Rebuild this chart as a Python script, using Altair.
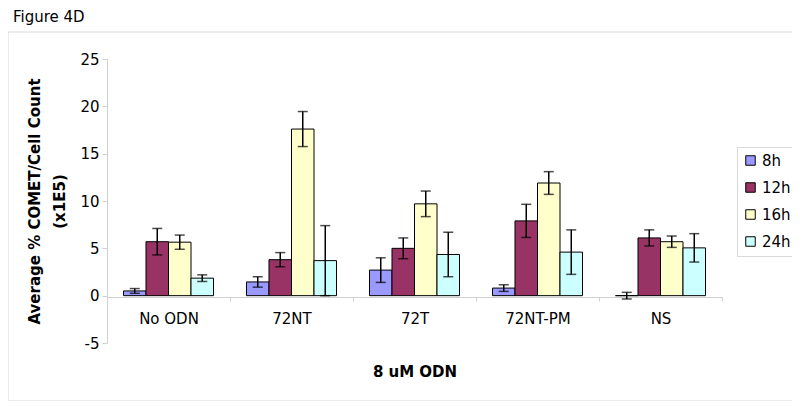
import altair as alt
import pandas as pd

categories = ["No ODN", "72NT", "72T", "72NT-PM", "NS"]
series = ["8h", "12h", "16h", "24h"]
colors = ["#9999FF", "#993366", "#FFFFCC", "#CCFFFF"]

means_8h = [0.5, 1.45, 2.7, 0.8, 0.0]
means_12h = [5.7, 3.8, 5.0, 7.9, 6.1]
means_16h = [5.65, 17.6, 9.7, 11.9, 5.7]
means_24h = [1.85, 3.7, 4.35, 4.6, 5.05]

err_8h = [0.25, 0.55, 1.3, 0.35, 0.35]
err_12h = [1.4, 0.75, 1.1, 1.75, 0.85]
err_16h = [0.75, 1.85, 1.35, 1.2, 0.6]
err_24h = [0.35, 3.7, 2.35, 2.35, 1.5]

y_ticks = [-5, 0, 5, 10, 15, 20, 25]

means = [means_8h, means_12h, means_16h, means_24h]
errs = [err_8h, err_12h, err_16h, err_24h]
rows = []
for s, m, e in zip(series, means, errs):
    for c, mv, ev in zip(categories, m, e):
        rows.append({"cat": c, "series": s, "mean": mv, "lo": mv - ev, "hi": mv + ev})
df = pd.DataFrame(rows)

FONT = "DejaVu Sans"

x_enc = alt.X(
    "cat:N",
    sort=categories,
    scale=alt.Scale(paddingInner=0, paddingOuter=0),
    axis=alt.Axis(
        title="8 uM ODN",
        offset=-46,
        tickBand="extent",
        domainColor="#d0d0d0",
        tickColor="#d0d0d0",
        tickSize=4,
        labelPadding=10,
        labelAngle=0,
        titlePadding=38,
        labelFontSize=15,
        titleFontSize=15,
        titleFontWeight="bold",
        labelColor="black",
        titleColor="black",
    ),
)
xo_enc = alt.XOffset("series:N", sort=series,
                     scale=alt.Scale(paddingInner=0, paddingOuter=0.733))
y_scale = alt.Scale(domain=[-5, 25], nice=False, zero=False)

base = alt.Chart(df)

bars = base.mark_bar(stroke="black", strokeWidth=1).encode(
    x=x_enc,
    xOffset=xo_enc,
    y=alt.Y(
        "mean:Q",
        scale=y_scale,
        axis=alt.Axis(
            values=y_ticks,
            grid=False,
            labelExpr="'' + datum.value",
            title=["Average % COMET/Cell Count", "(x1E5)"],
            titleFontSize=15,
            titleFontWeight="bold",
            titleColor="black",
            titleLineHeight=25,
            labelFontSize=15,
            labelColor="black",
            domainColor="#d0d0d0",
            tickColor="#d0d0d0",
            tickSize=5,
            labelPadding=3,
            titlePadding=12,
        ),
    ),
    y2=alt.datum(0),
    color=alt.Color(
        "series:N",
        sort=series,
        scale=alt.Scale(domain=series, range=colors),
        legend=alt.Legend(
            title=None,
            orient="none",
            legendX=630,
            legendY=88,
            symbolType="square",
            symbolSize=90,
            symbolStrokeColor="black",
            symbolStrokeWidth=1,
            labelFontSize=15,
            labelColor="black",
            rowPadding=11,
            padding=6,
            strokeColor="#d9d9d9",
            fillColor="white",
        ),
    ),
)

rules = base.mark_rule(color="black", strokeWidth=1.5).encode(
    x=x_enc, xOffset=xo_enc, y=alt.Y("lo:Q", scale=y_scale), y2="hi:Q"
)
caps_hi = base.mark_tick(color="black", orient="horizontal", size=10, thickness=1.5).encode(
    x=x_enc, xOffset=xo_enc, y=alt.Y("hi:Q", scale=y_scale)
)
caps_lo = base.mark_tick(color="black", orient="horizontal", size=10, thickness=1.5).encode(
    x=x_enc, xOffset=xo_enc, y=alt.Y("lo:Q", scale=y_scale)
)

frame = alt.Chart(pd.DataFrame({"a": [0]})).mark_rect(
    fill=None, stroke="#d9d9d9", strokeWidth=1
).encode(x=alt.value(-99), x2=alt.value(686), y=alt.value(-27), y2=alt.value(342))

fig_title = alt.Chart(pd.DataFrame({"t": ["Figure 4D"]})).mark_text(
    align="left", baseline="alphabetic", fontSize=15, font=FONT, color="black"
).encode(x=alt.value(-94), y=alt.value(-37), text="t:N")

chart = (
    alt.layer(frame, bars, rules, caps_hi, caps_lo, fig_title)
    .properties(
        width=615,
        height=284,
        autosize=alt.AutoSizeParams(type="none"),
        padding={"left": 99, "top": 51, "right": 70, "bottom": 58},
    )
    .configure(font=FONT)
    .configure_view(stroke=None)
)

chart.save("out.html", embed_options={"renderer": "svg", "actions": False})
